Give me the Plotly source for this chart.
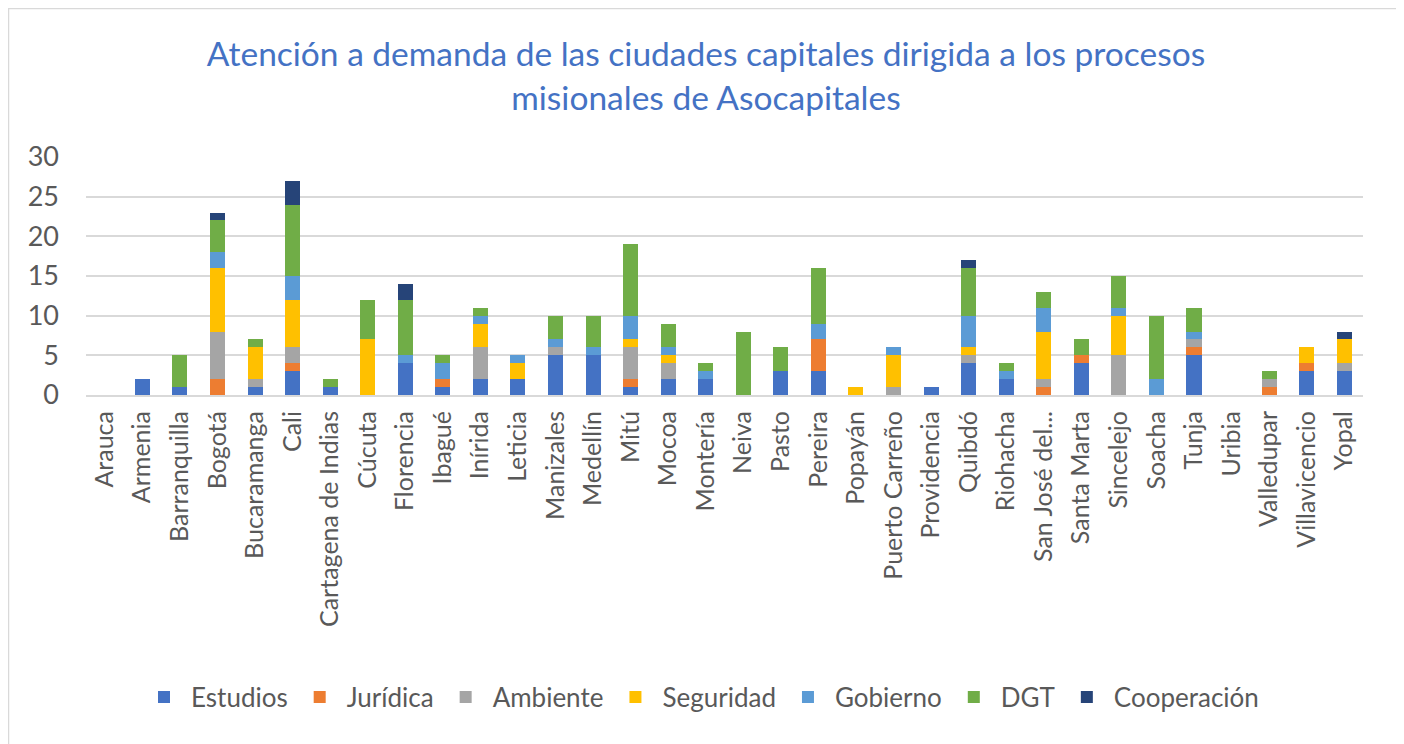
import plotly.graph_objects as go

ciudades = ["Arauca", "Armenia", "Barranquilla", "Bogotá", "Bucaramanga", "Cali",
            "Cartagena de Indias", "Cúcuta", "Florencia", "Ibagué", "Inírida", "Leticia",
            "Manizales", "Medellín", "Mitú", "Mocoa", "Montería", "Neiva", "Pasto",
            "Pereira", "Popayán", "Puerto Carreño", "Providencia", "Quibdó", "Riohacha",
            "San José del...", "Santa Marta", "Sincelejo", "Soacha", "Tunja", "Uribia",
            "Valledupar", "Villavicencio", "Yopal"]

estudios    = [0, 2, 1, 0, 1, 3, 1, 0, 4, 1, 2, 2, 5, 5, 1, 2, 2, 0, 3, 3, 0, 0, 1, 4, 2, 0, 4, 0, 0, 5, 0, 0, 3, 3]
juridica    = [0, 0, 0, 2, 0, 1, 0, 0, 0, 1, 0, 0, 0, 0, 1, 0, 0, 0, 0, 4, 0, 0, 0, 0, 0, 1, 1, 0, 0, 1, 0, 1, 1, 0]
ambiente    = [0, 0, 0, 6, 1, 2, 0, 0, 0, 0, 4, 0, 1, 0, 4, 2, 0, 0, 0, 0, 0, 1, 0, 1, 0, 1, 0, 5, 0, 1, 0, 1, 0, 1]
seguridad   = [0, 0, 0, 8, 4, 6, 0, 7, 0, 0, 3, 2, 0, 0, 1, 1, 0, 0, 0, 0, 1, 4, 0, 1, 0, 6, 0, 5, 0, 0, 0, 0, 2, 3]
gobierno    = [0, 0, 0, 2, 0, 3, 0, 0, 1, 2, 1, 1, 1, 1, 3, 1, 1, 0, 0, 2, 0, 1, 0, 4, 1, 3, 0, 1, 2, 1, 0, 0, 0, 0]
dgt         = [0, 0, 4, 4, 1, 9, 1, 5, 7, 1, 1, 0, 3, 4, 9, 3, 1, 8, 3, 7, 0, 0, 0, 6, 1, 2, 2, 4, 8, 3, 0, 1, 0, 0]
cooperacion = [0, 0, 0, 1, 0, 3, 0, 0, 2, 0, 0, 0, 0, 0, 0, 0, 0, 0, 0, 0, 0, 0, 0, 1, 0, 0, 0, 0, 0, 0, 0, 0, 0, 1]

series = [
    ("Estudios", estudios, "#4472C4"),
    ("Jurídica", juridica, "#ED7D31"),
    ("Ambiente", ambiente, "#A5A5A5"),
    ("Seguridad", seguridad, "#FFC000"),
    ("Gobierno", gobierno, "#5B9BD5"),
    ("DGT", dgt, "#70AD47"),
    ("Cooperación", cooperacion, "#264478"),
]

fig = go.Figure()
for name, vals, color in series:
    fig.add_trace(go.Bar(x=ciudades, y=vals, name=name,
                         marker=dict(color=color, line=dict(width=0))))

W, H = 1396, 736
L, R, T, B = 78, 41, 149, 349
pw, ph = W - L - R, H - T - B

font_family = "Lato, 'Open Sans', sans-serif"
fig.update_layout(
    barmode="stack",
    bargap=0.6,
    width=W, height=H,
    paper_bgcolor="white", plot_bgcolor="white",
    margin=dict(l=L, r=R, t=T, b=B, autoexpand=False),
    font=dict(family=font_family, color="#595959"),
    title=dict(
        text="Atención a demanda de las ciudades capitales dirigida a los procesos<br>misionales de Asocapitales",
        x=0.5, xanchor="center", y=1 - 58 / H, yanchor="middle",
        font=dict(size=33.5, color="#4472C4", family=font_family),
    ),
    yaxis=dict(range=[0, 30], dtick=5, showgrid=True, gridcolor="#D9D9D9", gridwidth=2,
               tickfont=dict(size=27, color="#595959"), zeroline=False, ticks="",
               ticklabelstandoff=26, automargin=False),
    xaxis=dict(tickangle=-90, tickfont=dict(size=25, color="#595959"), showline=True,
               linecolor="#D9D9D9", linewidth=2, ticks="", automargin=False,
               ticklabelstandoff=4),
    legend=dict(orientation="h", x=0.5 - 24 / pw, xanchor="center", y=(T + ph - 689) / ph,
                yanchor="middle", font=dict(size=26, color="#595959"), itemwidth=44,
                traceorder="normal"),
    shapes=[dict(type="rect", xref="paper", yref="paper",
                 x0=(0.5 - L) / pw, x1=(1390 - L) / pw,
                 y0=(T + ph - 760) / ph, y1=(T + ph - 0.5) / ph,
                 line=dict(color="#D9D9D9", width=1.5), layer="below")],
)

fig.write_html("out.html")
